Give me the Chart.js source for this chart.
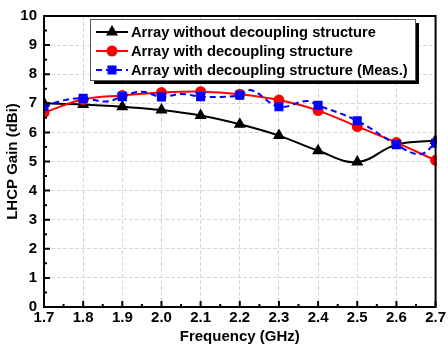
<!DOCTYPE html>
<html>
<head>
<meta charset="utf-8">
<script src="https://cdn.jsdelivr.net/npm/chart.js@4"></script>
<style>
  html, body { margin: 0; padding: 0; background: #fff; }
  #wrap { width: 448px; height: 345px; }
</style>
</head>
<body>
<div id="wrap"><canvas id="gain"></canvas></div>
<script>
// simulated gain, sampled every 0.1 GHz
const freq = [1.7, 1.8, 1.9, 2.0, 2.1, 2.2, 2.3, 2.4, 2.5, 2.6, 2.7];
const gainNoDecoupling = [7.00, 6.96, 6.88, 6.77, 6.58, 6.28, 5.89, 5.37, 4.98, 5.58, 5.72];
const gainDecoupling = [6.68, 7.13, 7.27, 7.37, 7.40, 7.31, 7.11, 6.75, 6.20, 5.65, 5.04];

// measured gain (finer sweep, markers at every 0.1 GHz)
const measFreq = [1.70, 1.75, 1.80, 1.86, 1.90, 1.95, 2.00, 2.05, 2.10, 2.15, 2.20, 2.23, 2.30, 2.37, 2.40, 2.50, 2.60, 2.66, 2.70];
const measGain = [6.89, 7.10, 7.17, 7.06, 7.23, 7.40, 7.22, 7.32, 7.23, 7.22, 7.28, 7.45, 6.88, 7.08, 6.93, 6.40, 5.58, 5.25, 5.63];

const legendLabels = [
    'Array without decoupling structure',
    'Array with decoupling structure',
    'Array with decoupling structure (Meas.)'
];

const FONT = '"Liberation Sans", Arial, sans-serif';

const toPoints = (xs, ys) => xs.map((x, i) => ({ x: x, y: ys[i] }));
const onGrid = x => Math.abs(x * 10 - Math.round(x * 10)) < 1e-6;

// frame around the plot plus inward tick marks on the bottom and left axes
const axisFrame = {
    id: 'axisFrame',
    afterDatasetsDraw(chart) {
        const { ctx, chartArea: a, scales } = chart;
        ctx.save();
        ctx.strokeStyle = '#000';
        ctx.lineWidth = 2;
        ctx.beginPath();
        const xt = scales.x.ticks.map(t => t.value);
        xt.forEach((v, i) => {
            const px = scales.x.getPixelForValue(v);
            ctx.moveTo(px, a.bottom);
            ctx.lineTo(px, a.bottom - 6);
            if (i < xt.length - 1) {
                const mx = scales.x.getPixelForValue((v + xt[i + 1]) / 2);
                ctx.moveTo(mx, a.bottom);
                ctx.lineTo(mx, a.bottom - 3);
            }
        });
        const yt = scales.y.ticks.map(t => t.value);
        yt.forEach((v, i) => {
            const py = scales.y.getPixelForValue(v);
            ctx.moveTo(a.left, py);
            ctx.lineTo(a.left + 6, py);
            if (i < yt.length - 1) {
                const my = scales.y.getPixelForValue((v + yt[i + 1]) / 2);
                ctx.moveTo(a.left, my);
                ctx.lineTo(a.left + 3, my);
            }
        });
        ctx.stroke();
        ctx.strokeRect(a.left, a.top, a.right - a.left, a.bottom - a.top);
        ctx.restore();
    }
};

// boxed legend with a drop shadow, inside the plot
const boxLegend = {
    id: 'boxLegend',
    afterDraw(chart) {
        const { ctx, chartArea: a } = chart;
        const bx = a.left + 46, by = a.top + 3, bw = 325, bh = 61;
        ctx.save();
        ctx.fillStyle = '#000';
        ctx.fillRect(bx + 4, by + 4, bw, bh);
        ctx.fillStyle = '#fff';
        ctx.fillRect(bx, by, bw, bh);
        ctx.strokeStyle = '#555';
        ctx.lineWidth = 1;
        ctx.strokeRect(bx + 0.5, by + 0.5, bw, bh);
        ctx.font = 'bold 14.7px ' + FONT;
        ctx.textBaseline = 'middle';
        chart.data.datasets.forEach((ds, i) => {
            const rowY = by + 13 + i * 19;
            ctx.strokeStyle = ds.borderColor;
            ctx.lineWidth = 2;
            ctx.setLineDash(ds.borderDash || []);
            ctx.beginPath();
            ctx.moveTo(bx + 6, rowY);
            ctx.lineTo(bx + 38, rowY);
            ctx.stroke();
            ctx.setLineDash([]);
            ctx.fillStyle = ds.borderColor;
            Chart.helpers.drawPoint(ctx, {
                pointStyle: ds.pointStyle, radius: ds.legendRadius, rotation: 0, borderWidth: 1
            }, bx + 22, rowY);
            ctx.fillStyle = '#000';
            ctx.fillText(ds.label, bx + 41, rowY + 1);
        });
        ctx.restore();
    }
};

new Chart(document.getElementById('gain'), {
    type: 'line',
    data: {
        datasets: [
            {
                label: legendLabels[0],
                data: toPoints(freq, gainNoDecoupling),
                borderColor: '#000',
                backgroundColor: '#000',
                pointStyle: 'triangle',
                pointRadius: 5,
                legendRadius: 5,
                borderWidth: 2,
                tension: 0.4,
                order: 2
            },
            {
                label: legendLabels[1],
                data: toPoints(freq, gainDecoupling),
                borderColor: '#ff0000',
                backgroundColor: '#ff0000',
                pointStyle: 'circle',
                pointRadius: 4.5,
                legendRadius: 4.5,
                borderWidth: 2,
                tension: 0.4,
                order: 1
            },
            {
                label: legendLabels[2],
                data: toPoints(measFreq, measGain),
                borderColor: '#0000ff',
                backgroundColor: '#0000ff',
                borderDash: [6, 4],
                pointStyle: 'rect',
                pointRadius: c => (c.raw && onGrid(c.raw.x)) ? 5 : 0,
                legendRadius: 5,
                borderWidth: 2,
                tension: 0.4,
                order: 0
            }
        ]
    },
    options: {
        responsive: true,
        maintainAspectRatio: false,
        animation: false,
        events: [],
        clip: 1,
        layout: { padding: { left: 0, right: 11, top: 14, bottom: 0 } },
        plugins: { legend: { display: false }, tooltip: { enabled: false } },
        scales: {
            x: {
                type: 'linear',
                min: 1.7,
                max: 2.7,
                afterFit: s => { s.height = 38; },
                ticks: {
                    stepSize: 0.1,
                    padding: 2,
                    color: '#000',
                    font: { family: FONT, size: 15, weight: 'bold' },
                    callback: v => v.toFixed(1),
                    maxRotation: 0,
                    autoSkip: false
                },
                grid: { drawTicks: false, color: '#d6d6d6', lineWidth: 1 },
                border: { display: true, color: 'rgba(0,0,0,0)', dash: [4, 2] },
                title: {
                    display: true,
                    text: 'Frequency (GHz)',
                    color: '#000',
                    padding: { top: 0, bottom: -1 },
                    font: { family: FONT, size: 15, weight: 'bold' }
                }
            },
            y: {
                min: 0,
                max: 10,
                afterFit: s => { s.width = 44; },
                ticks: {
                    stepSize: 1,
                    padding: 7,
                    color: '#000',
                    font: { family: FONT, size: 15, weight: 'bold' }
                },
                grid: { drawTicks: false, color: '#d6d6d6', lineWidth: 1 },
                border: { display: true, color: 'rgba(0,0,0,0)', dash: [4, 2] },
                title: {
                    display: true,
                    text: 'LHCP Gain (dBi)',
                    color: '#000',
                    padding: { top: 4, bottom: 0 },
                    font: { family: FONT, size: 15, weight: 'bold' }
                }
            }
        }
    },
    plugins: [axisFrame, boxLegend]
});
</script>
</body>
</html>
